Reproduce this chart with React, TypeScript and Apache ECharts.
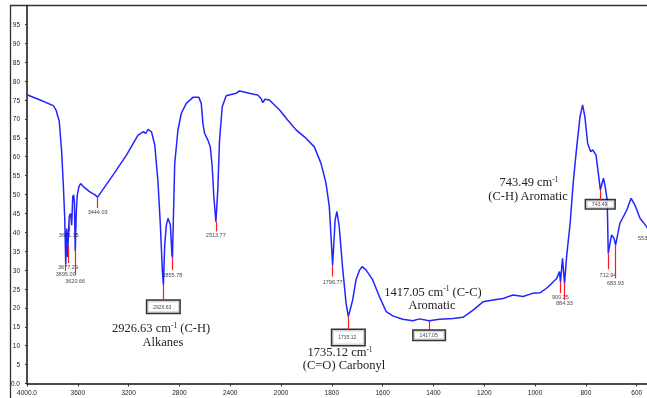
import React, { useEffect, useRef } from "react";
import * as echarts from "echarts";

// Spectrum: wavenumber (cm-1) and transmittance (%T)
const wavenumbers = [
  4000, 3897, 3793, 3772, 3746, 3727, 3714, 3703, 3695, 3687,
  3680, 3677, 3668, 3658, 3648, 3640, 3633, 3627, 3620, 3612,
  3604, 3591, 3578, 3557, 3505, 3465, 3444, 3322, 3217, 3126,
  3086, 3065, 3047, 3020, 2994, 2969, 2950, 2934, 2926, 2916,
  2903, 2890, 2871, 2859, 2855, 2837, 2812, 2785, 2746, 2694,
  2647, 2628, 2615, 2602, 2576, 2557, 2542, 2529, 2513, 2498,
  2484, 2463, 2432, 2353, 2327, 2275, 2184, 2157, 2144, 2126,
  2092, 2013, 1974, 1941, 1902, 1869, 1843, 1823, 1810, 1801,
  1797, 1787, 1780, 1771, 1758, 1744, 1735, 1718, 1705, 1691,
  1681, 1665, 1639, 1613, 1586, 1560, 1521, 1481, 1455, 1417,
  1376, 1323, 1284, 1244, 1205, 1165, 1126, 1087, 1047, 1008,
  981, 955, 942, 915, 904, 900, 892, 884, 876, 862,
  849, 836, 823, 813, 804, 793, 781, 773, 760, 751,
  743, 731, 725, 716, 712, 699, 689, 683, 666, 639,
  622, 607, 587, 561, 553, 540,
];
const transmittance = [
  76.4, 75.0, 73.5, 72.4, 69.3, 61.3, 52.5, 43.8, 31.5, 41.0,
  33.5, 36.6, 44.1, 45.0, 41.9, 49.4, 49.9, 48.0, 34.9, 45.5,
  49.9, 52.1, 52.9, 52.1, 50.7, 49.9, 49.3, 55.2, 60.4, 65.7,
  66.6, 66.2, 67.2, 66.6, 63.1, 53.4, 41.9, 29.6, 26.1, 36.6,
  41.9, 43.7, 41.9, 34.0, 33.3, 58.2, 67.0, 71.5, 74.1, 75.7,
  75.7, 74.1, 68.8, 66.2, 64.4, 62.6, 57.4, 49.4, 42.8, 51.2,
  64.4, 73.2, 76.1, 76.8, 77.4, 77.0, 76.3, 75.4, 74.3, 75.2,
  75.0, 72.4, 69.7, 67.1, 64.9, 62.6, 58.3, 53.0, 46.8, 36.2,
  31.3, 43.3, 45.5, 41.5, 30.9, 21.2, 17.7, 22.1, 27.4, 30.0,
  30.9, 30.0, 27.4, 23.0, 19.0, 17.9, 17.0, 16.6, 17.1, 16.6,
  17.0, 17.2, 17.5, 19.4, 21.6, 22.1, 22.5, 23.4, 23.0, 23.9,
  24.0, 25.2, 26.0, 27.8, 29.6, 26.9, 33.1, 26.5, 33.5, 42.4,
  53.8, 62.6, 70.6, 73.7, 70.6, 63.5, 61.3, 61.8, 60.4, 55.6,
  51.2, 54.3, 52.5, 48.5, 34.4, 39.3, 38.4, 36.6, 42.4, 45.9,
  49.0, 47.2, 43.7, 41.5, 40.5, 41.5,
];

// Peak picks
const peakWn = [3695.0, 3677.29, 3671.15, 3620.66, 3444.03, 2926.63, 2855.78, 2513.77, 1796.77, 1735.12, 1417.05, 900.25, 884.33, 743.49, 712.94, 683.93, 553];
const peakText = ["3695.00", "3677.29", "3671.15", "3620.66", "3444.03", "2926.63", "2855.78", "2513.77", "1796.77", "1735.12", "1417.05", "900.25", "884.33", "743.49", "712.94", "683.93", "553"];
const peakDipT = [31.5, 36.6, 43.0, 34.9, 49.3, 26.1, 33.3, 42.8, 31.3, 17.7, 16.6, 26.9, 26.5, 51.2, 34.4, 36.6, 40.5];
const peakEndT = [29.8, 31.8, 40.2, 28.7, 46.4, 22.1, 30.0, 40.2, 28.3, 14.3, 14.0, 23.9, 22.1, 48.5, 30.2, 27.8, 39.5];
const peakLabelT = [28.9, 30.9, 39.3, 27.1, 45.4, 20.3, 28.8, 39.2, 26.9, 12.2, 12.75, 22.8, 21.2, 47.4, 28.6, 26.6, 38.5];
const boxedPeaks = ["2926.63", "1735.12", "1417.05", "743.49"];

const xTickLabels = ["4000.0", "3600", "3200", "2800", "2400", "2000", "1800", "1600", "1400", "1200", "1000", "800", "600", "400"];

// Spectrometer axis: scale doubles below 2000 cm-1
const toAxis = (w: number) => (w >= 2000 ? 4000 - w : 2000 + 2 * (2000 - w));

export default function App() {
  const ref = useRef<HTMLDivElement>(null);
  useEffect(() => {
    if (!ref.current) return;
    const chart = echarts.init(ref.current, undefined, { renderer: "svg" });
    const lineData = wavenumbers.map((w, i) => [toAxis(w), transmittance[i]]);
    const markData = peakWn.map((w, i) => [
      { coord: [toAxis(w), peakDipT[i]] },
      { coord: [toAxis(w), peakEndT[i]] },
    ]);
    const labelData = peakWn.map((w, i) => {
      const boxed = boxedPeaks.indexOf(peakText[i]) >= 0;
      const pads: Record<string, number[]> = {
        "2926.63": [3.5, 8, 3.5, 6],
        "1735.12": [5, 8, 5, 6],
        "1417.05": [2, 7, 2, 6],
        "743.49": [1.5, 7, 1.5, 6],
      };
      const edge = i === peakWn.length - 1;
      return {
        value: [toAxis(w), peakLabelT[i]],
        label: boxed
          ? {
              show: true,
              position: "inside",
              formatter: peakText[i],
              fontSize: 5,
              color: "#111",
              fontFamily: "Liberation Sans",
              backgroundColor: "#fff",
              borderColor: "#000",
              borderWidth: 1.5,
              padding: pads[peakText[i]],
            }
          : {
              show: true,
              position: "inside",
              formatter: peakText[i],
              fontSize: 5.5,
              color: "#111",
              fontFamily: "Liberation Sans",
              offset: edge ? [-6, 0] : [0, 0],
            },
      };
    });
    const serif = "Liberation Serif";
    const rich = {
      n: { fontSize: 12.5, fontFamily: serif, fill: "#222", lineHeight: 14 },
      s: { fontSize: 7.5, fontFamily: serif, fill: "#222", verticalAlign: "top", lineHeight: 14 },
    };
    const note = (x: number, y: number, text: string) => ({
      type: "text",
      x,
      y,
      silent: true,
      style: { text, rich, align: "center", verticalAlign: "middle", fill: "#222", fontSize: 12.5, fontFamily: serif },
    });
    chart.setOption({
      animation: false,
      grid: { left: 27, top: 5.5, width: 660.5, height: 378, outerBoundsMode: "none", containLabel: false },
      xAxis: {
        type: "value",
        min: 0,
        max: 5200,
        interval: 400,
        axisLine: { lineStyle: { color: "#111", width: 1.5 } },
        axisTick: { show: true, length: 3, lineStyle: { color: "#333" } },
        axisLabel: {
          fontSize: 6.5,
          color: "#222",
          margin: 5,
          fontFamily: "Liberation Sans",
          showMaxLabel: false,
          formatter: (v: number) => xTickLabels[Math.round(v / 400)] ?? "",
        },
        splitLine: { show: false },
      },
      yAxis: {
        type: "value",
        min: 0,
        max: 100,
        interval: 5,
        axisLine: { show: true, lineStyle: { color: "#111", width: 1.5 } },
        axisTick: { show: true, length: 2, lineStyle: { color: "#333" } },
        axisLabel: {
          fontSize: 6.5,
          color: "#222",
          margin: 7,
          fontFamily: "Liberation Sans",
          formatter: (v: number) => (v === 0 ? "0.0" : v === 100 ? "" : String(v)),
        },
        splitLine: { show: false },
      },
      series: [
        {
          type: "line",
          data: lineData,
          symbol: "none",
          lineStyle: { color: "#2424ff", width: 1.5 },
          markLine: {
            silent: true,
            symbol: ["none", "none"],
            label: { show: false },
            lineStyle: { color: "#ff1a1a", width: 1.2, type: "solid" },
            data: markData,
          },
          z: 3,
        },
        {
          type: "scatter",
          data: labelData,
          symbolSize: 1,
          itemStyle: { color: "rgba(0,0,0,0)" },
          silent: true,
          clip: false,
          z: 4,
        },
      ],
      graphic: [
        {
          type: "rect",
          shape: { x: 10.5, y: 5.5, width: 800, height: 600 },
          style: { fill: "none", stroke: "#333", lineWidth: 1.3 },
          silent: true,
        },
        note(161, 328, "{n|2926.63 cm}{s|-1}{n| (C-H)}"),
        note(163, 341.5, "{n|Alkanes}"),
        note(340, 352, "{n|1735.12 cm}{s|-1}"),
        note(344, 365, "{n|(C=O) Carbonyl}"),
        note(433, 291.5, "{n|1417.05 cm}{s|-1}{n| (C-C)}"),
        note(432, 304.5, "{n|Aromatic}"),
        note(529, 182, "{n|743.49 cm}{s|-1}"),
        note(528, 196, "{n|(C-H) Aromatic}"),
      ],
    });
    return () => chart.dispose();
  }, []);
  return <div ref={ref} style={{ position: "fixed", left: 0, top: 0, width: 647, height: 398 }} />;
}
